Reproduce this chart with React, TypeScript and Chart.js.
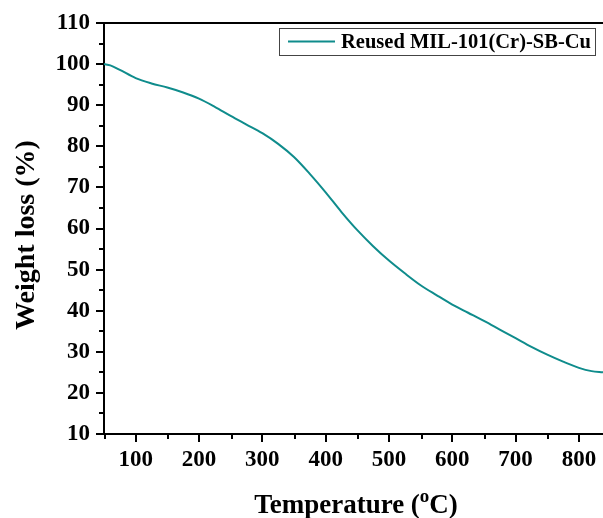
import React, { useEffect, useRef } from 'react';
import { Chart, registerables } from 'chart.js';

Chart.register(...registerables);

// ---- data ----
const temperatures = [50, 60, 75, 100, 125, 150, 175, 200, 225, 250, 275, 300, 325, 350, 375, 400, 425, 450, 475, 500, 525, 550, 575, 600, 625, 650, 675, 700, 725, 750, 775, 800, 820, 838];
const weightLoss = [100, 99.7, 98.6, 96.6, 95.3, 94.3, 93.1, 91.6, 89.6, 87.4, 85.3, 83.2, 80.6, 77.4, 73.3, 68.8, 64.0, 59.6, 55.7, 52.2, 49.1, 46.2, 43.8, 41.5, 39.5, 37.5, 35.4, 33.3, 31.2, 29.3, 27.6, 26.1, 25.3, 25.0];
const xTickValues = [100, 200, 300, 400, 500, 600, 700, 800];
const yTickValues = [10, 20, 30, 40, 50, 60, 70, 80, 90, 100, 110];
const xMinorTicks = [50, 150, 250, 350, 450, 550, 650, 750];
const yMinorTicks = [15, 25, 35, 45, 55, 65, 75, 85, 95, 105];
const seriesLabel = 'Reused MIL-101(Cr)-SB-Cu';
const yTitle = 'Weight loss (%)';
const xTitleMain = 'Temperature (';
const xTitleSup = 'o';
const xTitleEnd = 'C)';

const X_MIN = 50;
const X_MAX = 838;
const Y_MIN = 10;
const Y_MAX = 110;

const LINE_COLOR = '#0f8c8c';
const FONT = '"Liberation Serif", "Times New Roman", serif';

const decorPlugin = {
  id: 'decor',
  afterDraw(chart: any) {
    const { ctx, chartArea: ca, scales } = chart;
    const x = scales.x;
    const y = scales.y;
    ctx.save();
    ctx.strokeStyle = '#000';
    ctx.lineWidth = 2;
    ctx.beginPath();
    // top frame line
    ctx.moveTo(ca.left - 1, ca.top);
    ctx.lineTo(ca.right, ca.top);
    // y ticks
    yTickValues.forEach((v) => {
      const p = Math.round(y.getPixelForValue(v));
      ctx.moveTo(ca.left, p);
      ctx.lineTo(ca.left - 8, p);
    });
    yMinorTicks.forEach((v) => {
      const p = Math.round(y.getPixelForValue(v));
      ctx.moveTo(ca.left, p);
      ctx.lineTo(ca.left - 5, p);
    });
    // x ticks
    xTickValues.forEach((v) => {
      const p = Math.round(x.getPixelForValue(v));
      ctx.moveTo(p, ca.bottom);
      ctx.lineTo(p, ca.bottom + 8);
    });
    xMinorTicks.forEach((v) => {
      const p = Math.round(x.getPixelForValue(v)) + 1;
      ctx.moveTo(p, ca.bottom);
      ctx.lineTo(p, ca.bottom + 5);
    });
    ctx.stroke();

    // legend
    ctx.lineWidth = 1;
    ctx.strokeStyle = '#444';
    ctx.strokeRect(279.5, 28.5, 316, 27);
    ctx.strokeStyle = LINE_COLOR;
    ctx.lineWidth = 2;
    ctx.beginPath();
    ctx.moveTo(288, 41.5);
    ctx.lineTo(335, 41.5);
    ctx.stroke();
    ctx.fillStyle = '#000';
    ctx.font = `bold 20.5px ${FONT}`;
    ctx.textAlign = 'left';
    ctx.textBaseline = 'alphabetic';
    ctx.fillText(chart.data.datasets[0].label, 341, 48);

    // y title
    ctx.save();
    ctx.translate(27, 235);
    ctx.rotate(-Math.PI / 2);
    ctx.font = `bold 28px ${FONT}`;
    ctx.textAlign = 'center';
    ctx.textBaseline = 'middle';
    ctx.fillText(yTitle, 0, 0);
    ctx.restore();

    // x title with superscript
    const mainFont = `bold 27px ${FONT}`;
    const supFont = `bold 19px ${FONT}`;
    ctx.font = mainFont;
    const w1 = ctx.measureText(xTitleMain).width;
    const w3 = ctx.measureText(xTitleEnd).width;
    ctx.font = supFont;
    const w2 = ctx.measureText(xTitleSup).width;
    const total = w1 + w2 + w3;
    let sx = 356 - total / 2;
    const base = 513;
    ctx.textAlign = 'left';
    ctx.textBaseline = 'alphabetic';
    ctx.font = mainFont;
    ctx.fillText(xTitleMain, sx, base);
    sx += w1;
    ctx.font = supFont;
    ctx.fillText(xTitleSup, sx, base - 11);
    sx += w2;
    ctx.font = mainFont;
    ctx.fillText(xTitleEnd, sx, base);
    ctx.restore();
  },
};

export default function App() {
  const ref = useRef<HTMLCanvasElement>(null);
  useEffect(() => {
    if (!ref.current) return;
    const chart = new Chart(ref.current, {
      type: 'line',
      data: {
        datasets: [
          {
            label: seriesLabel,
            data: temperatures.map((t, i) => ({ x: t, y: weightLoss[i] })),
            borderColor: LINE_COLOR,
            borderWidth: 2,
            pointRadius: 0,
            fill: false,
            cubicInterpolationMode: 'monotone',
          },
        ],
      },
      options: {
        animation: false,
        responsive: true,
        maintainAspectRatio: false,
        layout: { padding: { top: 23, right: 0, left: 0, bottom: 0 } },
        plugins: { legend: { display: false }, tooltip: { enabled: false } },
        scales: {
          x: {
            type: 'linear',
            min: X_MIN,
            max: X_MAX,
            afterBuildTicks: (scale: any) => {
              scale.ticks = xTickValues.map((v) => ({ value: v }));
            },
            afterFit: (scale: any) => {
              scale.height = 84;
              scale.paddingLeft = 0;
              scale.paddingRight = 0;
            },
            grid: { display: false, drawTicks: false },
            border: { display: true, color: '#000', width: 2 },
            ticks: {
              padding: 12,
              color: '#000',
              font: { family: FONT, size: 23, weight: 'bold' },
              maxRotation: 0,
              autoSkip: false,
            },
          },
          y: {
            type: 'linear',
            min: Y_MIN,
            max: Y_MAX,
            afterBuildTicks: (scale: any) => {
              scale.ticks = yTickValues.map((v) => ({ value: v }));
            },
            afterFit: (scale: any) => {
              scale.width = 104;
              scale.paddingTop = 0;
              scale.paddingBottom = 0;
            },
            grid: { display: false, drawTicks: false },
            border: { display: true, color: '#000', width: 2 },
            ticks: {
              padding: 14,
              color: '#000',
              font: { family: FONT, size: 23, weight: 'bold' },
              autoSkip: false,
            },
          },
        },
      },
      plugins: [decorPlugin],
    } as any);
    return () => chart.destroy();
  }, []);
  return (
    <div style={{ position: 'absolute', left: 0, top: 0, width: 603, height: 518, background: '#fff' }}>
      <canvas ref={ref} />
    </div>
  );
}
